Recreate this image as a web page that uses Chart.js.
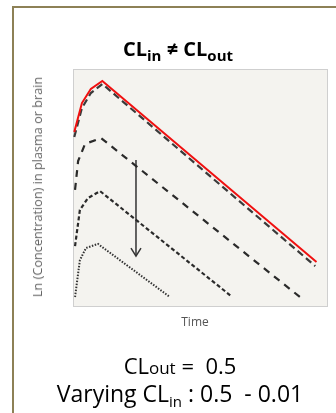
<!DOCTYPE html>
<html>
<head>
<meta charset="utf-8">
<script src="https://cdn.jsdelivr.net/npm/chart.js@4"></script>
<style>
  body { margin: 0; background: #fff; }
  #wrap { position: relative; width: 336px; height: 413px; overflow: hidden; font-family: "Open Sans", sans-serif; }
  #frame { position: absolute; left: 12px; top: 6px; width: 400px; height: 500px; border-left: 2px solid #8d8156; border-top: 2px solid #8d8156; }
  canvas { position: absolute; left: 0; top: 0; }
  .t { position: absolute; white-space: nowrap; color: #000; }
  #title { left: 0; width: 356px; text-align: center; top: 39px; font-weight: bold; font-size: 20px; line-height: 20px; }
  #title sub { font-size: 15px; vertical-align: -5px; line-height: 0; }
  #ylab { left: 37px; top: 187px; transform: translate(-50%, -50%) rotate(-90deg); font-size: 12.7px; color: #666; }
  #xlab { left: 0; width: 390px; text-align: center; top: 313px; font-size: 12px; color: #555; }
  #l1 { left: 0; width: 360px; text-align: center; top: 354px; font-size: 22px; line-height: 22px; }
  #l1 span { font-size: 17px; }
  #l2 { left: 0; width: 360px; text-align: center; top: 382px; font-size: 23px; line-height: 23px; }
  #l2 sub { font-size: 15px; vertical-align: -5px; line-height: 0; }
</style>
</head>
<body>
<div id="wrap">
  <div id="frame"></div>
  <canvas id="chart" width="336" height="413"></canvas>
  <div class="t" id="title">CL<sub>in</sub> ≠ CL<sub>out</sub></div>
  <div class="t" id="ylab">Ln (Concentration) in plasma or brain</div>
  <div class="t" id="xlab">Time</div>
  <div class="t" id="l1">CL<span>out</span> =&nbsp; 0.5</div>
  <div class="t" id="l2">Varying CL<sub>in</sub> : 0.5&nbsp; - 0.01</div>
</div>
<script>
// time axis (arbitrary units) and ln(concentration)
const timeRed = [0.05, 0.35, 0.7, 1.15, 9.55];
const concRed = [7.35, 8.57, 9.16, 9.5, 1.89];

const time1 = [0.05, 0.35, 0.7, 1.15, 9.5];
const conc1 = [7.14, 8.36, 8.99, 9.37, 1.72];

const time2 = [0.08, 0.2, 0.47, 1.1, 8.9];
const conc2 = [4.92, 6.13, 6.85, 7.1, 0.42];

const time3 = [0.08, 0.27, 0.59, 1.06, 6.2];
const conc3 = [2.56, 4.08, 4.58, 4.87, 0.46];

const time4 = [0.08, 0.27, 0.51, 0.98, 3.8];
const conc4 = [0.42, 1.97, 2.48, 2.65, 0.42];

const arrowTime = [2.47, 2.47];
const arrowConc = [6.18, 2.14];

function toPoints(xs, ys) {
  return xs.map((x, i) => ({ x: x, y: ys[i] }));
}

const plotBackground = {
  id: "plotBackground",
  beforeDraw(chart) {
    const { ctx, chartArea } = chart;
    ctx.save();
    ctx.fillStyle = "#f4f3ef";
    ctx.fillRect(chartArea.left, chartArea.top, chartArea.width, chartArea.height);
    ctx.strokeStyle = "#cfcfcf";
    ctx.lineWidth = 1;
    ctx.strokeRect(chartArea.left + 0.5, chartArea.top + 0.5, chartArea.width - 1, chartArea.height - 1);
    ctx.restore();
  },
};

const arrowHead = {
  id: "arrowHead",
  afterDatasetsDraw(chart) {
    const { ctx, scales } = chart;
    const px = scales.x.getPixelForValue(arrowTime[1]);
    const py = scales.y.getPixelForValue(arrowConc[1]);
    ctx.save();
    ctx.strokeStyle = "#333";
    ctx.lineWidth = 1.5;
    ctx.beginPath();
    ctx.moveTo(px - 5, py - 8);
    ctx.lineTo(px, py);
    ctx.lineTo(px + 5, py - 8);
    ctx.stroke();
    ctx.restore();
  },
};

new Chart(document.getElementById("chart"), {
  type: "line",
  data: {
    datasets: [
      { data: toPoints(timeRed, concRed), borderColor: "#f01010", borderWidth: 2, order: 0 },
      { data: toPoints(time1, conc1), borderColor: "#3a3a3a", borderWidth: 2.2, borderDash: [7, 4], order: 1 },
      { data: toPoints(time2, conc2), borderColor: "#2a2a2a", borderWidth: 2.2, borderDash: [7, 6], order: 2 },
      { data: toPoints(time3, conc3), borderColor: "#2a2a2a", borderWidth: 2.2, borderDash: [4, 2.5], order: 3 },
      { data: toPoints(time4, conc4), borderColor: "#333", borderWidth: 2, borderDash: [1.5, 1.5], order: 4 },
      { data: toPoints(arrowTime, arrowConc), borderColor: "#333", borderWidth: 1.5, order: 5 },
    ],
  },
  options: {
    responsive: false,
    animation: false,
    layout: { padding: { left: 73, right: 8, top: 69, bottom: 106 } },
    elements: { point: { radius: 0 }, line: { tension: 0 } },
    plugins: { legend: { display: false }, tooltip: { enabled: false } },
    scales: {
      x: { type: "linear", min: 0, max: 10, display: false },
      y: { min: 0, max: 10, display: false },
    },
  },
  plugins: [plotBackground, arrowHead],
});
</script>
</body>
</html>
